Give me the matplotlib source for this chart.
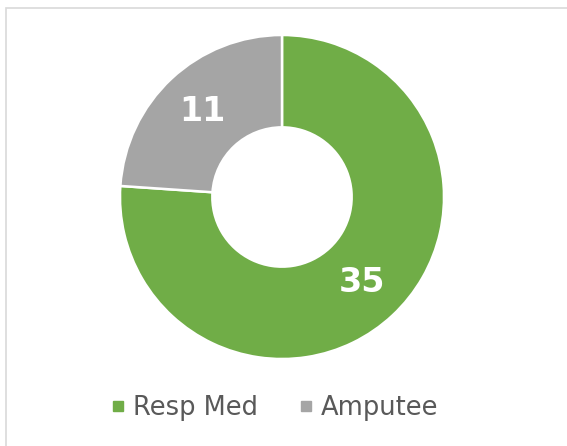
import numpy as np
import matplotlib.pyplot as plt
from matplotlib.lines import Line2D
from matplotlib.patches import Rectangle

plt.rcParams['font.family'] = ['DejaVu Sans']

labels = ['Resp Med', 'Amputee']
values = [35, 11]
colors = ['#70AD47', '#A5A5A5']

W, H = 567, 446
fig = plt.figure(figsize=(W / 100, H / 100), dpi=100)

# chart border
fig.patches.append(Rectangle((6 / W, -0.01), 1.0, (H - 8) / H + 0.01, transform=fig.transFigure,
                             fill=False, edgecolor='#D9D9D9', linewidth=1.2))

cx, cy, r = 282, 197, 162
ax = fig.add_axes([(cx - r) / W, (H - cy - r) / H, 2 * r / W, 2 * r / H])
wedges, _ = ax.pie(values, colors=colors, startangle=90, counterclock=False, radius=1,
                   wedgeprops=dict(width=0.57, edgecolor='white', linewidth=1.8))
ax.set_xlim(-1, 1)
ax.set_ylim(-1, 1)
ax.set_aspect('equal')
ax.axis('off')

total = sum(values)
start = 90
for v in values:
    span = v / total * 360
    mid = np.deg2rad(start - span / 2)
    ax.text(0.72 * np.cos(mid), 0.72 * np.sin(mid), str(v), ha='center', va='center',
            color='white', fontsize=24, fontweight='bold')
    start -= span

handles = [Line2D([], [], marker='s', linestyle='none', markersize=6.5, color=c) for c in colors]
fig.legend(handles, labels, loc='center', bbox_to_anchor=(274.5 / W, (H - 408) / H), ncol=2,
           frameon=False, fontsize=18.5, labelcolor='#595959', handlelength=0.6,
           handletextpad=0.3, columnspacing=1.55)

fig.savefig('out.png', dpi=100)
